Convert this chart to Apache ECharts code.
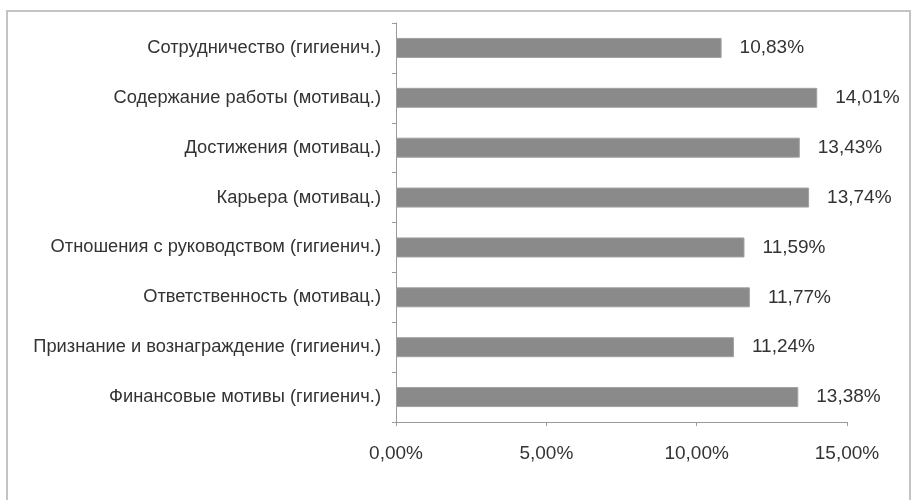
<!DOCTYPE html>
<html>
<head>
<meta charset="utf-8">
<script src="https://cdn.jsdelivr.net/npm/echarts@6/dist/echarts.min.js"></script>
<style>
  html, body { margin: 0; padding: 0; background: #fff; }
  #chart { width: 912px; height: 500px; }
</style>
</head>
<body>
<div id="chart"></div>
<script>
// Факторы мотивации, сверху вниз
const categories = [
  'Сотрудничество (гигиенич.)',
  'Содержание работы (мотивац.)',
  'Достижения (мотивац.)',
  'Карьера (мотивац.)',
  'Отношения с руководством (гигиенич.)',
  'Ответственность (мотивац.)',
  'Признание и вознаграждение (гигиенич.)',
  'Финансовые мотивы (гигиенич.)'
];
// Доля, %
const shares = [10.83, 14.01, 13.43, 13.74, 11.59, 11.77, 11.24, 13.38];

const fmtPct = v => v.toFixed(2).replace('.', ',') + '%';
const font = 'Liberation Sans, Arial, sans-serif';

const chart = echarts.init(document.getElementById('chart'), null, { renderer: 'canvas' });
chart.setOption({
  animation: false,
  backgroundColor: '#ffffff',
  graphic: [{
    type: 'rect',
    shape: { x: 7, y: 11, width: 903, height: 490 },
    style: { fill: 'none', stroke: '#c4c4c4', lineWidth: 2 },
    silent: true
  }],
  grid: { left: 396, right: 65, top: 23, bottom: 78 },
  xAxis: {
    type: 'value',
    min: 0, max: 15, interval: 5,
    axisLine: { show: true, lineStyle: { color: '#9a9a9a', width: 1 } },
    axisTick: { show: true, length: 4, lineStyle: { color: '#9a9a9a' } },
    splitLine: { show: false },
    axisLabel: {
      formatter: v => fmtPct(v),
      color: '#333', fontFamily: font, fontSize: 19, margin: 22
    }
  },
  yAxis: {
    type: 'category',
    data: categories,
    inverse: true,
    axisLine: { show: true, lineStyle: { color: '#9a9a9a', width: 1 } },
    axisTick: { show: true, length: 4, lineStyle: { color: '#9a9a9a' } },
    axisLabel: { color: '#333', fontFamily: font, fontSize: 18.3, margin: 15 }
  },
  series: [{
    type: 'bar',
    data: shares,
    barWidth: 20,
    itemStyle: { color: '#8a8a8a', borderColor: '#a0a0a0', borderWidth: 1 },
    label: {
      show: true, position: 'right', distance: 18,
      formatter: p => fmtPct(p.value),
      color: '#333', fontFamily: font, fontSize: 19
    }
  }]
});
</script>
</body>
</html>
